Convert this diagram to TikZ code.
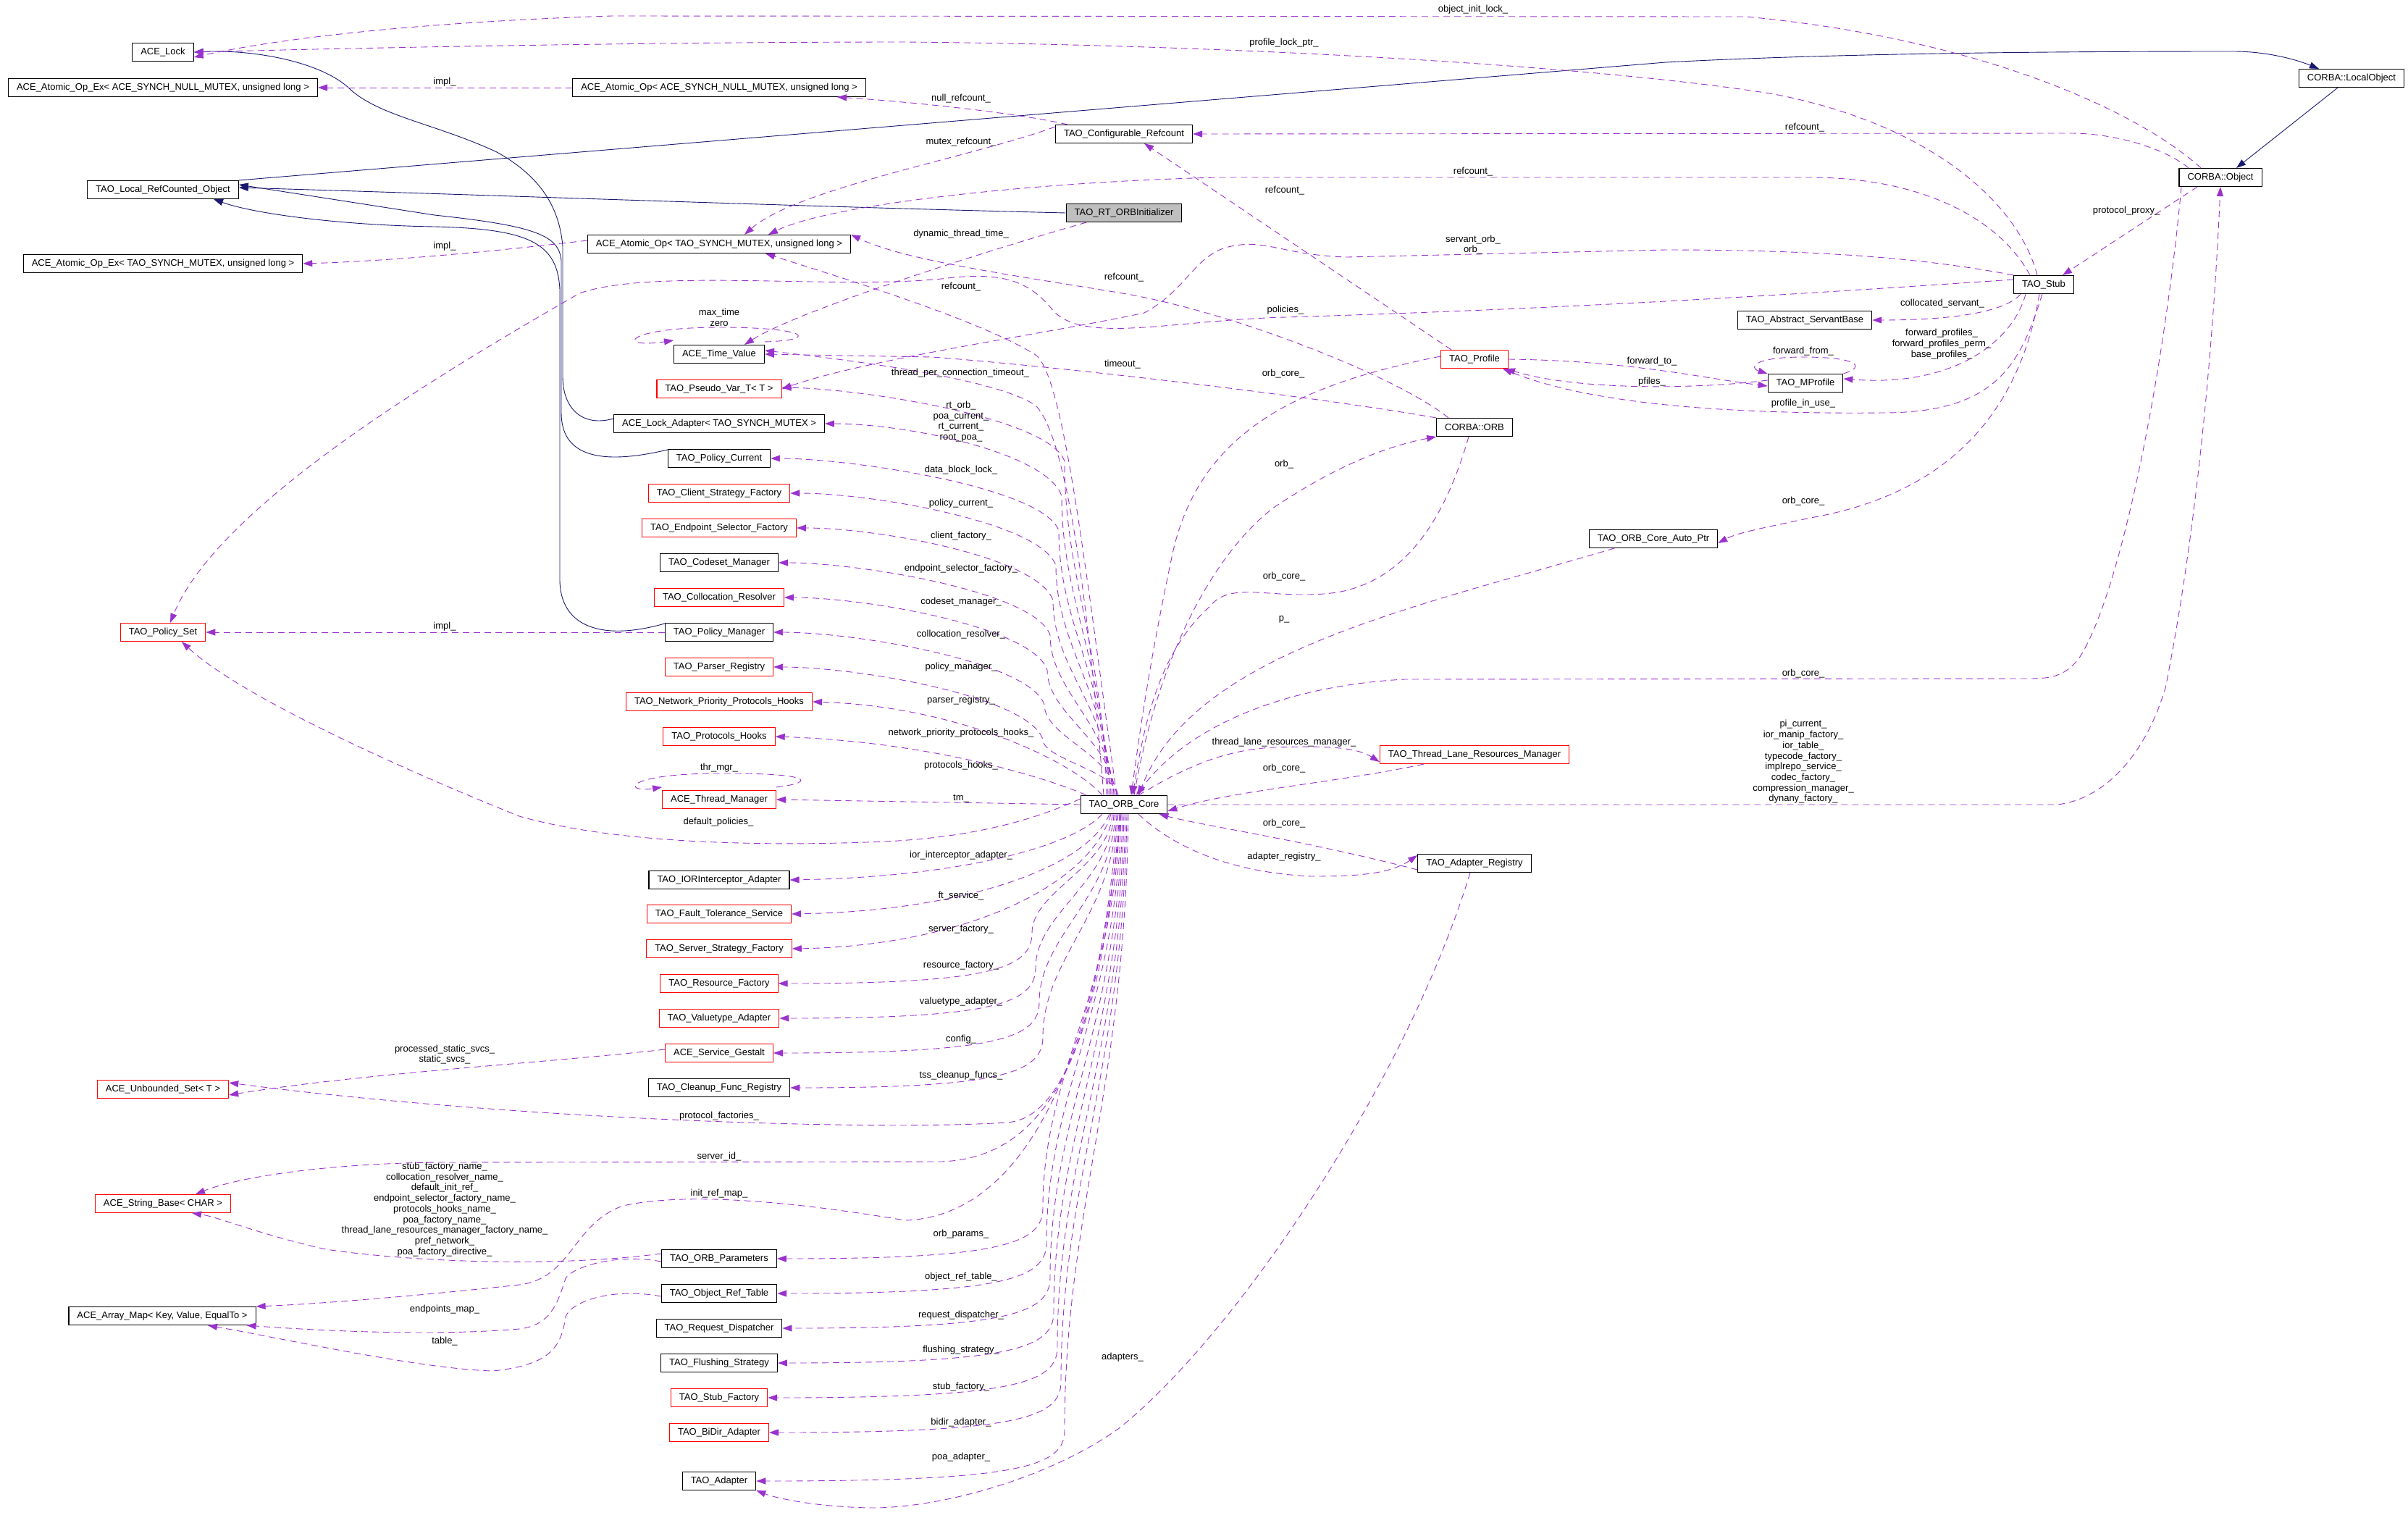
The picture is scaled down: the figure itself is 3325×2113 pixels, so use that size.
\documentclass[tikz,border=0pt]{standalone}
\usepackage{fontspec}
\setmainfont{Liberation Sans}
\usetikzlibrary{arrows.meta}
\definecolor{usecol}{HTML}{9A32CD}
\definecolor{inhcol}{HTML}{191970}
\definecolor{boxgray}{HTML}{BFBFBF}
\tikzset{
  cls/.style={draw=black, line width=1.1pt, fill=white, inner xsep=11.5pt, inner ysep=0pt, minimum height=25pt, font=\fontsize{13}{14.7}\selectfont},
  clsred/.style={cls, draw=red},
  clsmain/.style={cls, fill=boxgray},
  useline/.style={draw=usecol, line width=0.9pt, dash pattern=on 9pt off 6pt, -{Triangle[length=13pt,width=9pt]}},
  inhline/.style={draw=inhcol, line width=0.9pt, -{Triangle[length=13pt,width=9pt]}},
  lbl/.style={inner sep=0pt, align=center, font=\fontsize{13}{14.7}\selectfont},
}
\begin{document}
\begin{tikzpicture}[x=1pt,y=1pt,yscale=-1,xscale=1]
\useasboundingbox (0,0) rectangle (3325,2113);

%Shape: Class boxes, left column
\draw (225,72) node [cls] (acelock) {ACE\_Lock};
\draw (225,121) node [cls] (opexnull) {ACE\_Atomic\_Op\_Ex< ACE\_SYNCH\_NULL\_MUTEX, unsigned long >};
\draw (225,262) node [cls] (localref) {TAO\_Local\_RefCounted\_Object};
\draw (225,364) node [cls] (opextao) {ACE\_Atomic\_Op\_Ex< TAO\_SYNCH\_MUTEX, unsigned long >};
\draw (225,873) node [clsred] (policyset) {TAO\_Policy\_Set};
\draw (225,1504) node [clsred] (unbset) {ACE\_Unbounded\_Set< T >};
\draw (225,1662) node [clsred] (stringbase) {ACE\_String\_Base< CHAR >};
\draw (224,1817) node [cls] (arraymap) {ACE\_Array\_Map< Key, Value, EqualTo >};

%Shape: Class boxes, member column
\draw (993,121) node [cls] (opnull) {ACE\_Atomic\_Op< ACE\_SYNCH\_NULL\_MUTEX, unsigned long >};
\draw (993,337) node [cls] (optao) {ACE\_Atomic\_Op< TAO\_SYNCH\_MUTEX, unsigned long >};
\draw (993,489) node [cls] (timeval) {ACE\_Time\_Value};
\draw (993,537) node [clsred] (pseudovar) {TAO\_Pseudo\_Var\_T< T >};
\draw (993,585) node [cls] (lockadapt) {ACE\_Lock\_Adapter< TAO\_SYNCH\_MUTEX >};
\draw (993,633) node [cls] (polcur) {TAO\_Policy\_Current};
\draw (993,681) node [clsred] (clientfac) {TAO\_Client\_Strategy\_Factory};
\draw (993,729) node [clsred] (epselfac) {TAO\_Endpoint\_Selector\_Factory};
\draw (993,777) node [cls] (codeset) {TAO\_Codeset\_Manager};
\draw (993,825) node [clsred] (collres) {TAO\_Collocation\_Resolver};
\draw (993,873) node [cls] (polman) {TAO\_Policy\_Manager};
\draw (993,921) node [clsred] (parserreg) {TAO\_Parser\_Registry};
\draw (993,969) node [clsred] (netprio) {TAO\_Network\_Priority\_Protocols\_Hooks};
\draw (993,1017) node [clsred] (prothooks) {TAO\_Protocols\_Hooks};
\draw (993,1104) node [clsred] (thrmgr) {ACE\_Thread\_Manager};
\draw (993,1215) node [cls] (iorint) {TAO\_IORInterceptor\_Adapter};
\draw (993,1262) node [clsred] (ftserv) {TAO\_Fault\_Tolerance\_Service};
\draw (993,1310) node [clsred] (ssfac) {TAO\_Server\_Strategy\_Factory};
\draw (993,1358) node [clsred] (resfac) {TAO\_Resource\_Factory};
\draw (993,1406) node [clsred] (vtadapt) {TAO\_Valuetype\_Adapter};
\draw (993,1454) node [clsred] (gestalt) {ACE\_Service\_Gestalt};
\draw (993,1502) node [cls] (cleanup) {TAO\_Cleanup\_Func\_Registry};
\draw (993,1738) node [cls] (orbparams) {TAO\_ORB\_Parameters};
\draw (993,1786) node [cls] (objreftab) {TAO\_Object\_Ref\_Table};
\draw (993,1834) node [cls] (reqdisp) {TAO\_Request\_Dispatcher};
\draw (993,1882) node [cls] (flushing) {TAO\_Flushing\_Strategy};
\draw (993,1930) node [clsred] (stubfac) {TAO\_Stub\_Factory};
\draw (993,1978) node [clsred] (bidir) {TAO\_BiDir\_Adapter};
\draw (993,2045) node [cls] (adapter) {TAO\_Adapter};

%Shape: Class boxes, right part
\draw (1552,185) node [cls] (config) {TAO\_Configurable\_Refcount};
\draw (1552,294) node [clsmain] (rtorb) {TAO\_RT\_ORBInitializer};
\draw (1552,1111) node [cls] (core) {TAO\_ORB\_Core};
\draw (2036,496) node [clsred] (profile) {TAO\_Profile};
\draw (2036,590) node [cls] (orb) {CORBA::ORB};
\draw (2036,1042) node [clsred] (tlrm) {TAO\_Thread\_Lane\_Resources\_Manager};
\draw (2036,1192) node [cls] (adreg) {TAO\_Adapter\_Registry};
\draw (2283,744) node [cls] (autoptr) {TAO\_ORB\_Core\_Auto\_Ptr};
\draw (2492,442) node [cls] (servantbase) {TAO\_Abstract\_ServantBase};
\draw (2493,529) node [cls] (mprof) {TAO\_MProfile};
\draw (2822,393) node [cls] (stub) {TAO\_Stub};
\draw (3066,245) node [cls] (object) {CORBA::Object};
\draw (3247,108) node [cls] (localobj) {CORBA::LocalObject};

%Straight Lines: inheritance
\draw [inhline] (rtorb.west) .. controls (1100,285) and (700,270) .. ([yshift=-3pt]localref.east);
\draw [inhline] (localref.north east) -- (2300,86) .. controls (2550,73) and (2850,71) .. (3084,71) .. controls (3130,71) and (3170,82) .. ([xshift=-45pt]localobj.north);
\draw [inhline] ([xshift=-19pt]localobj.south) -- ([xshift=22pt]object.north);
\draw [inhline] ([yshift=-7pt]lockadapt.west) .. controls (805,590) and (777,565) .. (777,520) -- (777,340) .. controls (772,280) and (740,240) .. (686,210) .. controls (600,170) and (520,160) .. (480,120) .. controls (440,85) and (350,68) .. (acelock.east);
\draw [inhline] ([yshift=-12pt]polcur.west) .. controls (820,645) and (775,625) .. (775,570) -- (775,360) .. controls (772,325) and (740,312) .. (600,297) -- ([yshift=-7pt]localref.east);
\draw [inhline] ([yshift=-12pt]polman.west) .. controls (830,886) and (773,865) .. (773,800) -- (773,400) .. controls (770,335) and (730,316) .. (600,313) .. controls (470,311) and (350,295) .. ([xshift=70pt]localref.south);

%Curve Lines: members of CORBA::Object, TAO_Stub and friends
\draw [useline] ([xshift=-27pt]object.north) .. controls (2960,160) and (2750,55) .. (2411,23) -- (845,22) .. controls (600,30) and (400,50) .. ([yshift=7pt]acelock.east);
\draw [useline] ([xshift=-9pt]stub.north) .. controls (2790,290) and (2680,175) .. (2450,130) .. controls (2200,90) and (1700,62) .. (1250,58) .. controls (900,58) and (500,66) .. (acelock.east);
\draw [useline] (opnull.west) -- (opexnull.east);
\draw [useline] ([xshift=-78pt]config.north) .. controls (1400,155) and (1250,140) .. ([xshift=163pt]opnull.south);
\draw [useline] ([yshift=-10pt]config.west) .. controls (1350,215) and (1100,260) .. ([xshift=35pt]optao.north);
\draw [useline] ([xshift=-44pt]object.north) .. controls (2990,205) and (2920,184) .. (2860,184) -- (config.east);
\draw [useline] ([xshift=-19pt]stub.north) .. controls (2760,300) and (2650,245) .. (2500,245) -- (1685,245) .. controls (1450,250) and (1150,280) .. ([xshift=68pt]optao.north);
\draw [useline] ([xshift=-32pt]profile.north) -- ([xshift=28pt]config.south);
\draw [useline] ([yshift=-5pt]optao.west) .. controls (700,345) and (550,360) .. (opextao.east);
\draw [useline] ([xshift=-52pt]rtorb.south) .. controls (1350,350) and (1100,430) .. ([xshift=35pt]timeval.north);
\draw [useline] ([yshift=-4pt]timeval.north east) .. controls (1130,470) and (1120,452) .. (993,452) .. controls (860,452) and (850,482) .. ([yshift=-6pt]timeval.north west);
\draw [useline] ([xshift=-36pt]orb.north) .. controls (1930,520) and (1700,430) .. (1550,405) .. controls (1400,380) and (1250,360) .. ([yshift=-13pt]optao.east);
\draw [useline] ([xshift=-10pt]core.north) .. controls (1500,800) and (1470,520) .. (1430,490) .. controls (1350,440) and (1150,380) .. ([xshift=64pt]optao.south);
\draw [useline] (stub.north west) .. controls (2650,355) and (2500,345) .. (2300,345) -- (1860,355) .. controls (1770,352) and (1750,330) .. (1700,340) .. controls (1650,350) and (1640,400) .. (1580,432) .. controls (1450,460) and (1200,495) .. (pseudovar.east);
\draw [useline] ([yshift=-7pt]stub.west) .. controls (2500,405) and (2200,425) .. (1775,438) .. controls (1620,442) and (1500,475) .. (1455,430) .. controls (1420,385) and (1380,375) .. (1300,385) .. controls (1150,400) and (900,370) .. (800,405) .. controls (600,520) and (300,700) .. ([xshift=10pt]policyset.north);
\draw [useline] (polman.west) -- (policyset.east);
\draw [useline] ([yshift=-8pt]core.west) .. controls (1400,1145) and (1300,1160) .. (1196,1163) .. controls (1050,1168) and (850,1165) .. (717,1127) .. controls (550,1060) and (330,960) .. ([xshift=26pt]policyset.south);
\draw [useline] (orb.north west) .. controls (1800,545) and (1450,505) .. (1287,493) -- (timeval.east);
\draw [useline] ([xshift=-28pt]core.north) .. controls (1500,800) and (1470,600) .. (1430,560) .. controls (1380,525) and (1200,500) .. ([yshift=-5pt]timeval.east);
\draw [useline] ([xshift=-32pt]object.south) -- ([xshift=26pt]stub.north);
\draw [useline] ([xshift=-32pt]stub.south) .. controls (2770,430) and (2700,442) .. (servantbase.east);
\draw [useline] ([xshift=-25pt]stub.south) .. controls (2780,470) and (2700,535) .. ([yshift=-6pt]mprof.east);
\draw [useline] (mprof.north east) .. controls (2580,505) and (2560,493) .. (2490,493) .. controls (2420,493) and (2415,508) .. (mprof.north west);
\draw [useline] (profile.east) .. controls (2250,498) and (2350,522) .. ([yshift=4pt]mprof.west);
\draw [useline] ([yshift=-4pt]mprof.west) .. controls (2350,537) and (2180,540) .. ([xshift=-4pt]profile.south east);
\draw [useline] ([xshift=-2pt]stub.south) .. controls (2790,500) and (2760,570) .. (2600,570) .. controls (2400,572) and (2200,560) .. ([xshift=-8pt]profile.south east);
\draw [useline] ([xshift=-6pt]stub.south) .. controls (2790,560) and (2700,680) .. (2500,715) .. controls (2440,728) and (2400,735) .. ([yshift=6pt]autoptr.east);
\draw [useline] ([xshift=-54pt]autoptr.south) .. controls (1950,840) and (1650,900) .. ([xshift=20pt]core.north);
\draw [useline] ([yshift=-4pt]profile.west) .. controls (1800,530) and (1660,590) .. (1620,760) .. controls (1590,900) and (1575,1000) .. ([xshift=10pt]core.north);
\draw [useline] ([xshift=14pt]core.north) .. controls (1600,900) and (1680,760) .. (1760,700) .. controls (1850,640) and (1920,615) .. (orb.south west);
\draw [useline] ([xshift=-8pt]orb.south) .. controls (2000,700) and (1950,800) .. (1846,818) .. controls (1760,830) and (1700,800) .. (1671,837) .. controls (1600,900) and (1580,1000) .. ([xshift=12pt]core.north);
\draw [useline] ([xshift=-54pt]object.south) .. controls (2990,500) and (2930,820) .. (2870,910) .. controls (2850,935) and (2830,937) .. (2800,937) -- (1940,938) .. controls (1800,945) and (1650,990) .. ([xshift=17pt]core.north);
\draw [useline] (core.east) -- (2840,1111) .. controls (2900,1105) and (2960,1050) .. (2990,950) .. controls (3030,750) and (3055,500) .. (object.south);
\draw [useline] ([xshift=20pt]core.north) .. controls (1620,1070) and (1680,1035) .. (1760,1032) .. controls (1820,1030) and (1870,1030) .. ([yshift=10pt]tlrm.west);
\draw [useline] ([xshift=-70pt]tlrm.south) .. controls (1850,1080) and (1700,1092) .. ([yshift=9pt]core.east);
\draw [useline] ([xshift=20pt]core.south) .. controls (1620,1170) and (1700,1205) .. (1811,1210) .. controls (1880,1210) and (1920,1206) .. ([yshift=-11pt]adreg.west);
\draw [useline] ([yshift=9pt]adreg.west) .. controls (1800,1160) and (1660,1140) .. ([xshift=-12pt]core.south east);
\draw [useline] ([xshift=-6pt]adreg.south) .. controls (1940,1500) and (1700,1850) .. (1544,1973) .. controls (1450,2040) and (1300,2083) .. (1200,2082) .. controls (1120,2080) and (1070,2068) .. (adapter.south east);

%Curve Lines: TAO_ORB_Core members above it
\draw [useline] ([xshift=-24pt]core.north) .. controls (1523,891) and (1470,799) .. (1470,637) .. controls (1450,577) and (1191,537) .. ([yshift=-2pt]pseudovar.east);
\draw [useline] ([xshift=-22pt]core.north) .. controls (1525,913) and (1466,830) .. (1466,685) .. controls (1446,625) and (1252,585) .. (lockadapt.east);
\draw [useline] ([xshift=-20pt]core.north) .. controls (1527,934) and (1462,861) .. (1462,733) .. controls (1442,673) and (1175,633) .. (polcur.east);
\draw [useline] ([xshift=-18pt]core.north) .. controls (1529,956) and (1458,892) .. (1458,781) .. controls (1438,721) and (1203,681) .. (clientfac.east);
\draw [useline] ([xshift=-16pt]core.north) .. controls (1531,977) and (1454,924) .. (1454,829) .. controls (1434,769) and (1213,729) .. (epselfac.east);
\draw [useline] ([xshift=-14pt]core.north) .. controls (1533,999) and (1450,955) .. (1450,877) .. controls (1430,817) and (1186,777) .. (codeset.east);
\draw [useline] ([xshift=-12pt]core.north) .. controls (1535,1021) and (1446,986) .. (1446,925) .. controls (1426,865) and (1194,825) .. (collres.east);
\draw [useline] ([xshift=-10pt]core.north) .. controls (1537,1042) and (1442,1017) .. (1442,973) .. controls (1422,913) and (1179,873) .. (polman.east);
\draw [useline] ([xshift=-8pt]core.north) .. controls (1539,1064) and (1440,1048) .. (1440,1021) .. controls (1420,961) and (1182,921) .. (parserreg.east);
\draw [useline] ([xshift=-30pt]core.north) .. controls (1480,1050) and (1320,975) .. (netprio.east);
\draw [useline] ([xshift=-52pt]core.north) .. controls (1460,1080) and (1300,1025) .. (prothooks.east);
\draw [useline] (core.west) -- (thrmgr.east);
\draw [useline] ([yshift=-4pt]thrmgr.north east) .. controls (1130,1080) and (1120,1067) .. (993,1068) .. controls (860,1068) and (860,1095) .. ([yshift=-4pt]thrmgr.north west);

%Curve Lines: TAO_ORB_Core members below it
\draw [useline] ([xshift=-30pt]core.south) .. controls (1480,1170) and (1322,1211) .. (iorint.east);
\draw [useline] ([xshift=-20pt]core.south) .. controls (1500,1200) and (1325,1258) .. (ftserv.east);
\draw [useline] ([xshift=-18pt]core.south) .. controls (1504,1226) and (1325,1306) .. (ssfac.east);
\draw [useline] ([xshift=-16pt]core.south) .. controls (1531,1198) and (1425,1231) .. (1425,1288) .. controls (1425,1338) and (1365,1358) .. (resfac.east);
\draw [useline] ([xshift=-14pt]core.south) .. controls (1533,1219) and (1430,1262) .. (1430,1336) .. controls (1430,1386) and (1370,1406) .. (vtadapt.east);
\draw [useline] ([xshift=-12pt]core.south) .. controls (1535,1241) and (1435,1293) .. (1435,1384) .. controls (1435,1434) and (1375,1454) .. (gestalt.east);
\draw [useline] ([xshift=-10pt]core.south) .. controls (1537,1263) and (1440,1324) .. (1440,1432) .. controls (1440,1482) and (1380,1502) .. (cleanup.east);
\draw [useline] ([xshift=-8pt]core.south) .. controls (1520,1400) and (1470,1545) .. (1390,1550) .. controls (1200,1562) and (700,1545) .. ([yshift=-9pt]unbset.east);
\draw [useline] ([xshift=-6pt]core.south) .. controls (1520,1450) and (1450,1598) .. (1300,1604) -- (600,1605) .. controls (450,1607) and (330,1625) .. ([xshift=45pt]stringbase.north);
\draw [useline] ([xshift=-4pt]core.south) .. controls (1510,1500) and (1400,1680) .. (1250,1685) .. controls (1100,1660) and (950,1645) .. (860,1665) .. controls (790,1690) and (790,1765) .. (717,1774) .. controls (600,1787) and (450,1800) .. (arraymap.north east);
\draw [useline] ([xshift=-6pt]core.south) .. controls (1541,1369) and (1440,1478) .. (1440,1668) .. controls (1440,1718) and (1380,1738) .. (orbparams.east);
\draw [useline] ([xshift=-4pt]core.south) .. controls (1543,1390) and (1445,1509) .. (1445,1716) .. controls (1445,1766) and (1385,1786) .. (objreftab.east);
\draw [useline] ([xshift=-2pt]core.south) .. controls (1545,1412) and (1450,1540) .. (1450,1764) .. controls (1450,1814) and (1390,1834) .. (reqdisp.east);
\draw [useline] (core.south) .. controls (1547,1434) and (1455,1571) .. (1455,1812) .. controls (1455,1862) and (1395,1882) .. (flushing.east);
\draw [useline] ([xshift=2pt]core.south) .. controls (1549,1455) and (1460,1602) .. (1460,1860) .. controls (1460,1910) and (1400,1930) .. (stubfac.east);
\draw [useline] ([xshift=4pt]core.south) .. controls (1551,1477) and (1465,1634) .. (1465,1908) .. controls (1465,1958) and (1405,1978) .. (bidir.east);
\draw [useline] ([xshift=6pt]core.south) .. controls (1553,1507) and (1470,1677) .. (1470,1975) .. controls (1470,2025) and (1410,2045) .. (adapter.east);

%Curve Lines: members of the helper classes
\draw [useline] ([yshift=-5pt]gestalt.west) .. controls (750,1468) and (500,1482) .. ([yshift=8pt]unbset.east);
\draw [useline] ([yshift=-7pt]orbparams.west) .. controls (750,1752) and (550,1740) .. (450,1725) .. controls (360,1705) and (300,1680) .. ([xshift=40pt]stringbase.south);
\draw [useline] ([yshift=4pt]orbparams.west) .. controls (850,1730) and (790,1750) .. (781,1765) .. controls (770,1800) and (760,1830) .. (717,1835) .. controls (600,1845) and (450,1838) .. ([xshift=-13pt]arraymap.south east);
\draw [useline] ([yshift=4pt]objreftab.west) .. controls (850,1778) and (790,1795) .. (781,1818) .. controls (775,1860) and (760,1885) .. (680,1893) .. controls (580,1890) and (400,1850) .. ([xshift=63pt]arraymap.south);

% Text Node
\draw (2034,13) node [lbl] {object\_init\_lock\_};
\draw (1773,59) node [lbl] {profile\_lock\_ptr\_};
\draw (614,113) node [lbl] {impl\_};
\draw (1327,136) node [lbl] {null\_refcount\_};
\draw (2492,176) node [lbl] {refcount\_};
\draw (1327,196) node [lbl] {mutex\_refcount\_};
\draw (2034,237) node [lbl] {refcount\_};
\draw (1774,263) node [lbl] {refcount\_};
\draw (2936,291) node [lbl] {protocol\_proxy\_};
\draw (1327,323) node [lbl] {dynamic\_thread\_time\_};
\draw (2034,338) node [lbl] {servant\_orb\_\\orb\_};
\draw (614,340) node [lbl] {impl\_};
\draw (1552,383) node [lbl] {refcount\_};
\draw (1327,396) node [lbl] {refcount\_};
\draw (2682,419) node [lbl] {collocated\_servant\_};
\draw (1775,428) node [lbl] {policies\_};
\draw (993,438) node [lbl] {max\_time\\zero};
\draw (2681,475) node [lbl] {forward\_profiles\_\\forward\_profiles\_perm\_\\base\_profiles\_};
\draw (2490,485) node [lbl] {forward\_from\_};
\draw (2281,499) node [lbl] {forward\_to\_};
\draw (1550,503) node [lbl] {timeout\_};
\draw (1326,515) node [lbl] {thread\_per\_connection\_timeout\_};
\draw (1772,516) node [lbl] {orb\_core\_};
\draw (2281,527) node [lbl] {pfiles\_};
\draw (2490,557) node [lbl] {profile\_in\_use\_};
\draw (1327,582) node [lbl] {rt\_orb\_\\poa\_current\_\\rt\_current\_\\root\_poa\_};
\draw (1773,641) node [lbl] {orb\_};
\draw (1327,649) node [lbl] {data\_block\_lock\_};
\draw (2490,692) node [lbl] {orb\_core\_};
\draw (1327,695) node [lbl] {policy\_current\_};
\draw (1327,740) node [lbl] {client\_factory\_};
\draw (1327,785) node [lbl] {endpoint\_selector\_factory\_};
\draw (1773,796) node [lbl] {orb\_core\_};
\draw (1327,831) node [lbl] {codeset\_manager\_};
\draw (1773,855) node [lbl] {p\_};
\draw (614,865) node [lbl] {impl\_};
\draw (1327,876) node [lbl] {collocation\_resolver\_};
\draw (1327,921) node [lbl] {policy\_manager\_};
\draw (2490,930) node [lbl] {orb\_core\_};
\draw (1327,967) node [lbl] {parser\_registry\_};
\draw (1327,1012) node [lbl] {network\_priority\_protocols\_hooks\_};
\draw (1773,1025) node [lbl] {thread\_lane\_resources\_manager\_};
\draw (2490,1052) node [lbl] {pi\_current\_\\ior\_manip\_factory\_\\ior\_table\_\\typecode\_factory\_\\implrepo\_service\_\\codec\_factory\_\\compression\_manager\_\\dynany\_factory\_};
\draw (1327,1057) node [lbl] {protocols\_hooks\_};
\draw (993,1060) node [lbl] {thr\_mgr\_};
\draw (1773,1061) node [lbl] {orb\_core\_};
\draw (1327,1103) node [lbl] {tm\_};
\draw (992,1135) node [lbl] {default\_policies\_};
\draw (1773,1137) node [lbl] {orb\_core\_};
\draw (1327,1181) node [lbl] {ior\_interceptor\_adapter\_};
\draw (1773,1183) node [lbl] {adapter\_registry\_};
\draw (1327,1237) node [lbl] {ft\_service\_};
\draw (1327,1283) node [lbl] {server\_factory\_};
\draw (1327,1333) node [lbl] {resource\_factory\_};
\draw (1327,1383) node [lbl] {valuetype\_adapter\_};
\draw (1327,1435) node [lbl] {config\_};
\draw (614,1456) node [lbl] {processed\_static\_svcs\_\\static\_svcs\_};
\draw (1327,1485) node [lbl] {tss\_cleanup\_funcs\_};
\draw (993,1541) node [lbl] {protocol\_factories\_};
\draw (993,1597) node [lbl] {server\_id\_};
\draw (614,1670) node [lbl] {stub\_factory\_name\_\\collocation\_resolver\_name\_\\default\_init\_ref\_\\endpoint\_selector\_factory\_name\_\\protocols\_hooks\_name\_\\poa\_factory\_name\_\\thread\_lane\_resources\_manager\_factory\_name\_\\pref\_network\_\\poa\_factory\_directive\_};
\draw (993,1648) node [lbl] {init\_ref\_map\_};
\draw (1327,1704) node [lbl] {orb\_params\_};
\draw (1327,1763) node [lbl] {object\_ref\_table\_};
\draw (614,1808) node [lbl] {endpoints\_map\_};
\draw (1327,1816) node [lbl] {request\_dispatcher\_};
\draw (614,1852) node [lbl] {table\_};
\draw (1327,1864) node [lbl] {flushing\_strategy\_};
\draw (1550,1874) node [lbl] {adapters\_};
\draw (1327,1915) node [lbl] {stub\_factory\_};
\draw (1327,1964) node [lbl] {bidir\_adapter\_};
\draw (1327,2012) node [lbl] {poa\_adapter\_};

\end{tikzpicture}
\end{document}
